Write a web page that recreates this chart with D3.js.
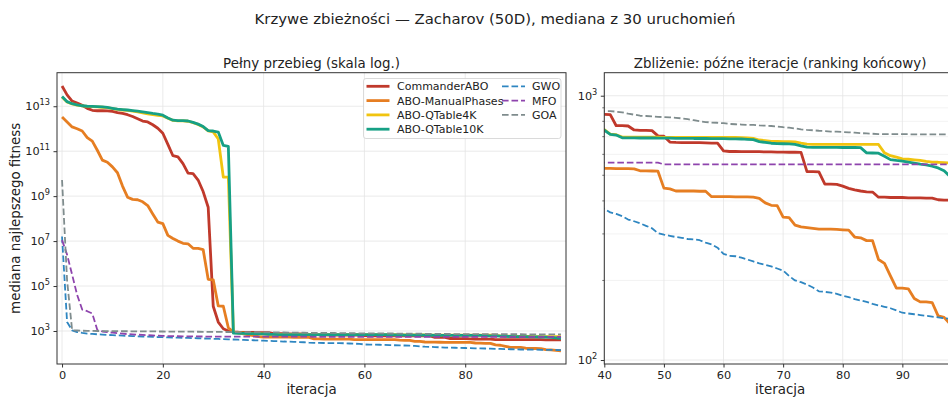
<!DOCTYPE html>
<html><head><meta charset="utf-8">
<script src="https://cdn.jsdelivr.net/npm/d3@7"></script>
<style>
body{margin:0;background:#fff}
svg{display:block;font-family:"DejaVu Sans",sans-serif}
</style>
</head><body>
<svg id="chart" width="948" height="398"></svg>
<script>
// Median best-fitness per iteration (30 runs), Zakharov 50D
const iterations = d3.range(100);

const commanderABO = [8e13,3.2e13,1.7e13,1.4e13,1.1e13,8e12,6.6e12,6.3e12,6.3e12,6.2e12,
  5.9e12,5.2e12,4.8e12,4.2e12,3.5e12,2.8e12,2.2e12,2.0e12,1.5e12,1.05e12,
  6.3e11,2e11,6.3e10,5.6e10,2.8e10,1.05e10,1.0e10,5.2e9,1.6e9,3.2e8,
  1.26e4,2.5e3,1.26e3,1000,910,880,870,860,855,852,
  850,848,770,770,768,742,740,740,738,705,
  703,668,666,665,665,664,664,663,662,662,
  618,615,615,614,614,614,614,613,613,612,
  612,611,611,610,516,516,515,463,463,462,
  455,446,440,436,433,432,413,413,412,412,
  412,411,411,411,410,410,404,403,403,402];

const manualPhases = [3.3e12,2.0e12,1.2e12,1.0e12,7.9e11,4e11,2.8e11,1.1e11,4e10,3.2e10,
  2e10,1.1e10,2.8e9,9e8,7.2e8,6.9e8,5.6e8,3.8e8,1.6e8,7e7,
  6e7,1.8e7,1.3e7,1e7,8e6,7.6e6,4.8e6,4.7e6,4.2e6,2e5,
  1.9e5,1.3e4,1.26e4,1.4e3,900,820,740,680,620,560,
  531,531,530,530,530,529,520,520,519,518,
  447,444,436,436,436,436,435,435,415,415,
  415,415,414,414,414,413,409,393,385,384,
  347,346,324,319,317,315,313,313,313,312,
  311,310,292,290,283,283,240,232,208,187,
  187,186,171,166,166,165,147,145,137,132];

const qTable4K = [2.6e13,1.55e13,1.28e13,1.12e13,1.03e13,9.8e12,9.6e12,9.3e12,9.0e12,8.6e12,
  7.9e12,7.2e12,6.8e12,6.5e12,6.0e12,5.6e12,5.1e12,4.6e12,4.2e12,3.9e12,
  3.7e12,2.9e12,2.35e12,2.25e12,2.25e12,2.15e12,1.85e12,1.55e12,1.2e12,8e11,
  7.2e11,3.5e11,7e9,7e9,850,820,800,780,765,753,
  745,716,712,697,697,697,697,697,697,697,
  696,696,696,696,696,696,695,695,695,695,
  695,695,695,694,693,690,680,676,672,671,
  670,670,669,661,656,655,655,655,655,655,
  655,655,655,655,655,655,654,608,593,586,
  577,575,572,569,564,561,560,558,556,555];

const qTable10K = [2.7e13,1.6e13,1.3e13,1.15e13,1.05e13,1.0e13,9.8e12,9.6e12,9.3e12,8.9e12,
  8.1e12,7.4e12,7.1e12,6.8e12,6.4e12,6.0e12,5.6e12,5.2e12,4.8e12,4.5e12,
  4.0e12,3.0e12,2.4e12,2.3e12,2.3e12,2.2e12,1.9e12,1.6e12,1.25e12,8.3e11,
  7.9e11,7.1e11,1.8e11,1.65e11,800,790,780,770,762,752,
  741,714,710,693,693,693,692,692,692,691,
  691,691,690,690,690,689,689,689,688,688,
  688,687,687,686,684,682,670,666,661,659,
  658,657,655,646,639,638,638,638,638,638,
  637,637,637,636,608,607,606,590,573,569,
  566,561,556,551,547,541,533,520,495,470];

const gwo = [1.6e7,2.5e3,1070,900,820,770,740,715,690,670,
  650,636,620,606,593,580,569,557,547,538,
  530,521,514,505,498,490,482,475,466,458,
  451,442,434,427,418,410,402,394,387,380,
  373,362,357,350,340,335,329,322,315,302,
  298,295,292,290,287,286,284,278,274,266,
  252,248,247,244,240,236,232,229,226,222,
  218,208,200,197,193,188,182,181,180,178,
  175,173,170,168,166,163,161,159,157,154,
  151,150,149,148,147,146,145,144,143,141];

const mfo = [1.1e7,2.5e6,3.2e5,4e4,9e3,7.6e3,6e3,1.1e3,950,890,
  840,795,760,730,705,685,665,648,632,618,
  605,596,590,585,580,577,574,571,568,566,
  564,562,560,558,558,558,558,558,558,558,
  558,558,558,558,558,558,558,558,558,558,
  550,550,550,550,550,550,550,550,550,550,
  550,550,550,550,550,550,550,550,550,550,
  550,550,550,550,550,550,550,550,550,550,
  550,550,550,550,550,550,550,550,550,550,
  550,550,550,550,550,550,550,550,550,550];

const goa = [5.2e9,1.8e5,1080,1050,1030,1015,1005,1000,995,990,
  985,980,976,972,968,965,962,958,955,952,
  948,945,942,938,935,932,928,924,920,916,
  912,908,904,900,896,892,888,884,880,877,
  875,875,870,865,855,848,840,838,835,832,
  830,828,825,821,815,808,800,795,792,790,
  787,782,780,778,776,775,772,770,768,765,
  760,757,752,746,742,740,737,735,732,731,
  729,727,725,722,720,718,716,715,715,715,
  715,715,714,714,714,714,714,714,714,714];

const seriesNames  = ["CommanderABO","ABO-ManualPhases","ABO-QTable4K","ABO-QTable10K","GWO","MFO","GOA"];
const seriesValues = [commanderABO, manualPhases, qTable4K, qTable10K, gwo, mfo, goa];
const seriesColors = ["#c0392b","#e67e22","#f1c40f","#16a085","#2e86c1","#8e44ad","#7f8c8d"];
const seriesDashed = [false,false,false,false,true,true,true];

const fullXLimits = [-1, 100];
const fullXTicks = [0, 20, 40, 60, 80];
const fullYTickExponents = [3, 5, 7, 9, 11, 13];
const zoomXLimits = [40, 99];
const zoomXTicks = [40, 50, 60, 70, 80, 90];
const zoomYLimits = [96.6, 1222];
const zoomYTickExponents = [2, 3];
const zoomYMinorTicks = [200,300,400,500,600,700,800,900];

const svg = d3.select("#chart");
const defs = svg.append("defs");

svg.append("text").attr("x", 495).attr("y", 24).attr("text-anchor","middle")
  .attr("font-size", 14.9).attr("fill","#222")
  .text("Krzywe zbieżności — Zacharov (50D), mediana z 30 uruchomień");

const plotTop = 72.7, plotBottom = 364;
const solidWidth = 2.8, dashedWidth = 1.8, dashPattern = "6.6,2.9";

function supLabel(sel, exp, anchor) {
  sel.text(null).attr("text-anchor", anchor);
  sel.append("tspan").text("10");
  sel.append("tspan").attr("font-size", 8.2).attr("dy", -5).text(exp);
}

function panel(id, left, right, xScaleDomain, yDomain, xTicks, yExps, minorTicks, title, showYLabel, xFrom) {
  const x = d3.scaleLinear().domain(xScaleDomain).range([left, right]);
  const y = d3.scaleLog().domain(yDomain).range([plotBottom, plotTop]);
  const g = svg.append("g");

  defs.append("clipPath").attr("id", "clip-" + id)
    .append("rect").attr("x", left).attr("y", plotTop).attr("width", right - left).attr("height", plotBottom - plotTop);

  // grid
  const grid = g.append("g");
  if (minorTicks) {
    grid.selectAll("line.minor").data(minorTicks).join("line")
      .attr("x1", left).attr("x2", right).attr("y1", d => y(d)).attr("y2", d => y(d))
      .attr("stroke", "#f0f0f0").attr("stroke-width", 0.8);
  }
  grid.selectAll("line.gx").data(xTicks).join("line")
    .attr("x1", d => x(d)).attr("x2", d => x(d)).attr("y1", plotTop).attr("y2", plotBottom)
    .attr("stroke", "#e4e4e4").attr("stroke-width", 0.8);
  grid.selectAll("line.gy").data(yExps).join("line")
    .attr("x1", left).attr("x2", right).attr("y1", d => y(Math.pow(10, d))).attr("y2", d => y(Math.pow(10, d)))
    .attr("stroke", "#e4e4e4").attr("stroke-width", 0.8);

  // series
  const lines = g.append("g").attr("clip-path", `url(#clip-${id})`);
  seriesValues.forEach((vals, k) => {
    const pts = iterations.filter(i => i >= xFrom).map(i => [i, vals[i]]);
    const line = d3.line().x(d => x(d[0])).y(d => y(d[1]));
    lines.append("path").datum(pts).attr("d", line)
      .attr("fill", "none").attr("stroke", seriesColors[k])
      .attr("stroke-width", seriesDashed[k] ? dashedWidth : solidWidth)
      .attr("stroke-linejoin", "round")
      .attr("stroke-dasharray", seriesDashed[k] ? dashPattern : null);
  });

  // axes
  const xAxis = g.append("g").attr("transform", `translate(0,${plotBottom})`)
    .call(d3.axisBottom(x).tickValues(xTicks).tickSize(3.5).tickPadding(3.5).tickFormat(d3.format("d")));
  xAxis.select(".domain").remove();
  xAxis.selectAll("text").attr("font-size", 11.3).attr("fill", "#222").attr("font-family", "DejaVu Sans");
  xAxis.selectAll("line").attr("stroke", "#333");

  const yAxis = g.append("g").attr("transform", `translate(${left},0)`)
    .call(d3.axisLeft(y).tickValues(yExps.map(e => Math.pow(10, e))).tickSize(3.5).tickPadding(3.5));
  yAxis.select(".domain").remove();
  yAxis.selectAll("line").attr("stroke", "#333");
  yAxis.selectAll("text").attr("font-size", 11.3).attr("fill", "#222").attr("font-family", "DejaVu Sans")
    .each(function(d) { supLabel(d3.select(this), String(Math.round(Math.log10(d))), "end"); });
  if (minorTicks) {
    g.append("g").selectAll("line").data(minorTicks).join("line")
      .attr("x1", left - 2).attr("x2", left).attr("y1", d => y(d)).attr("y2", d => y(d))
      .attr("stroke", "#333").attr("stroke-width", 0.7);
  }

  g.append("rect").attr("x", left).attr("y", plotTop).attr("width", right - left).attr("height", plotBottom - plotTop)
    .attr("fill", "none").attr("stroke", "#333").attr("stroke-width", 1);

  g.append("text").attr("x", (left + right) / 2).attr("y", 68).attr("text-anchor", "middle")
    .attr("font-size", 13.4).attr("fill", "#222").text(title);
  g.append("text").attr("x", (left + right) / 2).attr("y", 394).attr("text-anchor", "middle")
    .attr("font-size", 13.4).attr("fill", "#222").text("iteracja");
  if (showYLabel) {
    g.append("text").attr("transform", `translate(20,${(plotTop + plotBottom) / 2}) rotate(-90)`)
      .attr("text-anchor", "middle").attr("font-size", 13.4).attr("fill", "#222")
      .text("mediana najlepszego fitness");
  }
  return g;
}

// full run: y limits from the data extent with a 5% margin in log space
const allVals = seriesValues.flat();
const lo = Math.log10(d3.min(allVals)), hi = Math.log10(d3.max(allVals));
const pad = (hi - lo) * 0.05;
panel("full", 57, 566, fullXLimits, [Math.pow(10, lo - pad), Math.pow(10, hi + pad)],
  fullXTicks, fullYTickExponents, null, "Pełny przebieg (skala log.)", true, 0);

panel("zoom", 604.3, 956, zoomXLimits, zoomYLimits,
  zoomXTicks, zoomYTickExponents, zoomYMinorTicks, "Zbliżenie: późne iteracje (ranking końcowy)", false, 39);

// legend (two columns)
const lg = svg.append("g");
lg.append("rect").attr("x", 363.5).attr("y", 78.5).attr("width", 197.5).attr("height", 60)
  .attr("rx", 2.5).attr("fill", "#fff").attr("fill-opacity", 0.85).attr("stroke", "#d0d0d0").attr("stroke-width", 0.8);
seriesNames.forEach((name, k) => {
  const col = k < 4 ? 0 : 1;
  const row = k < 4 ? k : k - 4;
  const lx = col === 0 ? 366.5 : 502;
  const tx = col === 0 ? 397 : 532;
  const ly = 86.3 + row * 14.3;
  lg.append("line").attr("x1", lx).attr("x2", lx + 23).attr("y1", ly).attr("y2", ly)
    .attr("stroke", seriesColors[k]).attr("stroke-width", seriesDashed[k] ? dashedWidth : solidWidth)
    .attr("stroke-dasharray", seriesDashed[k] ? dashPattern : null);
  lg.append("text").attr("x", tx).attr("y", ly + 4).attr("font-size", 11).attr("fill", "#222").text(name);
});
</script>
</body></html>
